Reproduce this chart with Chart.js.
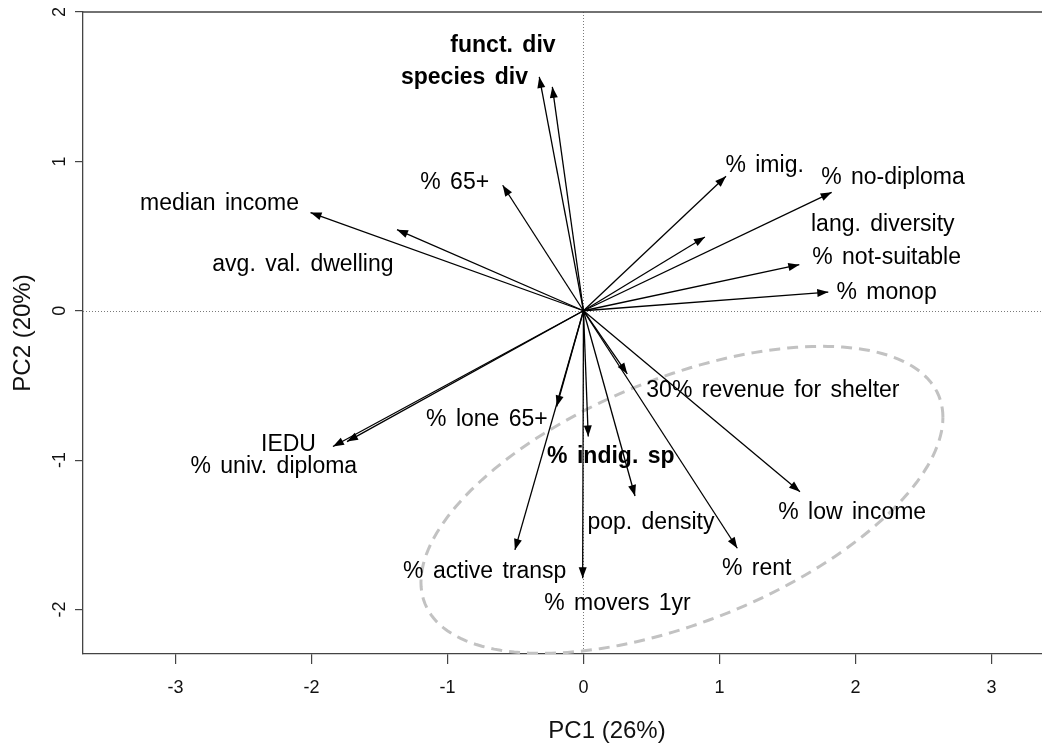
<!DOCTYPE html>
<html>
<head>
<meta charset="utf-8">
<title>PCA biplot</title>
<script src="https://cdn.jsdelivr.net/npm/chart.js@4.4.1/dist/chart.umd.min.js"></script>
<style>
  html, body { margin: 0; padding: 0; background: #fff; overflow: hidden; }
  #frame { width: 1042px; height: 746px; overflow: hidden; }
  canvas { display: block; }
</style>
</head>
<body>
<div id="frame"><canvas id="biplot" width="1131" height="746"></canvas></div>
<script>
// Loadings of each variable on the first two principal components
const variables = [
  'median income', 'avg. val. dwelling', '% 65+', 'species div', 'funct. div',
  '% imig.', 'lang. diversity', '% no-diploma', '% not-suitable', '% monop',
  'IEDU', '% univ. diploma', '% lone 65+', '% active transp', '% movers 1yr',
  '% indig. sp', 'pop. density', '30% revenue for shelter', '% rent', '% low income'
];
const pc1 = [
  -2.007, -1.371, -0.594, -0.325, -0.229,
   1.048,  0.893,  1.825,  1.587,  1.800,
  -1.739, -1.842, -0.197, -0.504, -0.006,
   0.035,  0.379,  0.322,  1.131,  1.592
];
const pc2 = [
   0.657,  0.543,  0.840,  1.566,  1.499,
   0.900,  0.494,  0.793,  0.308,  0.125,
  -0.876, -0.909, -0.641, -1.601, -1.791,
  -0.842, -1.240, -0.422, -1.590, -1.211
];
// Where each variable name is written, in PC1 / PC2 units
const labelPc1 = [
  -2.676, -2.063, -0.947, -0.875, -0.592,
   1.332,  2.201,  2.276,  2.229,  2.229,
  -2.169, -2.277, -0.710, -0.726,  0.250,
   0.201,  0.496,  1.393,  1.274,  1.976
];
const labelPc2 = [
   0.729,  0.320,  0.869,  1.576,  1.790,
   0.984,  0.591,  0.906,  0.367,  0.135,
  -0.883, -1.030, -0.717, -1.735, -1.948,
  -0.965, -1.409, -0.524, -1.713, -1.339
];
// Biodiversity variables are set in bold
const boldVariables = ['species div', 'funct. div', '% indig. sp'];

const xTickValues = [-3, -2, -1, 0, 1, 2, 3];
const yTickValues = [-2, -1, 0, 1, 2];

// Ellipse around the deprivation cluster: centre and two conjugate semi-axes
const ellipseCenter = [0.724, -1.266];
const ellipseAxisU = [1.919, 0.552];
const ellipseAxisV = [0.0, 0.867];

const FONT = '"Liberation Sans", Arial, Helvetica, sans-serif';
Chart.defaults.font.family = FONT;
Chart.defaults.color = '#111';

const ellipsePoints = [];
for (let k = 0; k <= 180; k++) {
  const t = (k / 180) * Math.PI * 2;
  ellipsePoints.push({
    x: ellipseCenter[0] + ellipseAxisU[0] * Math.cos(t) + ellipseAxisV[0] * Math.sin(t),
    y: ellipseCenter[1] + ellipseAxisU[1] * Math.cos(t) + ellipseAxisV[1] * Math.sin(t)
  });
}

const arrowDatasets = variables.map((name, i) => ({
  label: name,
  data: [{ x: 0, y: 0 }, { x: pc1[i], y: pc2[i] }],
  showLine: true,
  borderColor: '#000',
  borderWidth: 1.3,
  pointRadius: 0,
  pointHoverRadius: 0,
  order: 1
}));

const ellipseDataset = {
  label: 'cluster',
  data: ellipsePoints,
  showLine: true,
  borderColor: '#c2c2c2',
  borderWidth: 3,
  borderDash: [11, 7],
  pointRadius: 0,
  pointHoverRadius: 0,
  order: 2
};

// Reference lines, arrowheads, variable names, frame and rotated y labels
const biplotDecor = {
  id: 'biplotDecor',
  beforeDatasetsDraw(chart) {
    const { ctx, chartArea: a, scales: { x, y } } = chart;
    const x0 = Math.round(x.getPixelForValue(0)) + 0.5;
    const y0 = Math.round(y.getPixelForValue(0)) + 0.5;
    ctx.save();
    ctx.strokeStyle = '#7a7a7a';
    ctx.lineWidth = 1;
    ctx.setLineDash([1, 2]);
    ctx.beginPath();
    ctx.moveTo(a.left, y0); ctx.lineTo(a.right, y0);
    ctx.moveTo(x0, a.top); ctx.lineTo(x0, a.bottom);
    ctx.stroke();
    ctx.restore();
  },
  afterDatasetsDraw(chart) {
    const { ctx, scales: { x, y } } = chart;
    const ox = x.getPixelForValue(0), oy = y.getPixelForValue(0);
    ctx.save();
    ctx.fillStyle = '#000';
    const headLen = 11, headHalf = 4;
    variables.forEach((name, i) => {
      const tx = x.getPixelForValue(pc1[i]);
      const ty = y.getPixelForValue(pc2[i]);
      const ang = Math.atan2(ty - oy, tx - ox);
      const c = Math.cos(ang), s = Math.sin(ang);
      const bx = tx - headLen * c, by = ty - headLen * s;
      ctx.beginPath();
      ctx.moveTo(tx, ty);
      ctx.lineTo(bx - headHalf * s, by + headHalf * c);
      ctx.lineTo(bx + headHalf * s, by - headHalf * c);
      ctx.closePath();
      ctx.fill();
    });
    const size = 23;
    ctx.textAlign = 'center';
    ctx.textBaseline = 'alphabetic';
    if ('wordSpacing' in ctx) ctx.wordSpacing = '3px';
    variables.forEach((name, i) => {
      const bold = boldVariables.includes(name);
      ctx.font = (bold ? 'bold ' : '') + size + 'px ' + FONT;
      const px = x.getPixelForValue(labelPc1[i]);
      const py = y.getPixelForValue(labelPc2[i]) + 0.36 * size;
      ctx.fillText(name, px, py);
    });
    ctx.restore();
  },
  afterDraw(chart) {
    const { ctx, chartArea: a, scales: { y } } = chart;
    ctx.save();
    ctx.strokeStyle = '#444';
    ctx.lineWidth = 1.3;
    ctx.beginPath();
    ctx.moveTo(a.left, a.top); ctx.lineTo(a.right, a.top); ctx.lineTo(a.right, a.bottom);
    ctx.stroke();
    // y tick labels run parallel to the axis
    ctx.fillStyle = '#111';
    ctx.font = '18px ' + FONT;
    ctx.textAlign = 'center';
    ctx.textBaseline = 'alphabetic';
    yTickValues.forEach(v => {
      const py = y.getPixelForValue(v);
      ctx.save();
      ctx.translate(a.left - 18, py);
      ctx.rotate(-Math.PI / 2);
      ctx.fillText(String(v), 0, 0);
      ctx.restore();
    });
    ctx.restore();
  }
};

new Chart(document.getElementById('biplot'), {
  type: 'scatter',
  data: { datasets: [...arrowDatasets, ellipseDataset] },
  options: {
    responsive: false,
    devicePixelRatio: 1,
    animation: false,
    events: [],
    layout: { padding: { top: 12, left: 0, right: 0, bottom: 0 } },
    plugins: { legend: { display: false }, tooltip: { enabled: false } },
    scales: {
      x: {
        type: 'linear',
        min: -3.680,
        max: 4.026,
        afterFit(scale) { scale.height = 92; },
        afterBuildTicks(scale) { scale.ticks = xTickValues.map(v => ({ value: v })); },
        grid: { display: true, drawOnChartArea: false, drawTicks: true, tickLength: 10, color: '#444', lineWidth: 1.2 },
        border: { display: true, color: '#444', width: 1.3 },
        ticks: { font: { size: 18 }, color: '#111', padding: 13, maxRotation: 0, callback: v => String(v) },
        title: { display: true, text: 'PC1 (26%)', font: { size: 24 }, color: '#111', padding: { top: 0, bottom: 0 } }
      },
      y: {
        type: 'linear',
        min: -2.298,
        max: 2.0,
        afterFit(scale) { scale.width = 83; },
        afterBuildTicks(scale) { scale.ticks = yTickValues.map(v => ({ value: v })); },
        grid: { display: true, drawOnChartArea: false, drawTicks: true, tickLength: 8, color: '#444', lineWidth: 1.2 },
        border: { display: true, color: '#444', width: 1.3 },
        ticks: { display: false },
        title: { display: true, text: 'PC2 (20%)', font: { size: 24 }, color: '#111', padding: { top: 9, bottom: 0 } }
      }
    }
  },
  plugins: [biplotDecor]
});
</script>
</body>
</html>
